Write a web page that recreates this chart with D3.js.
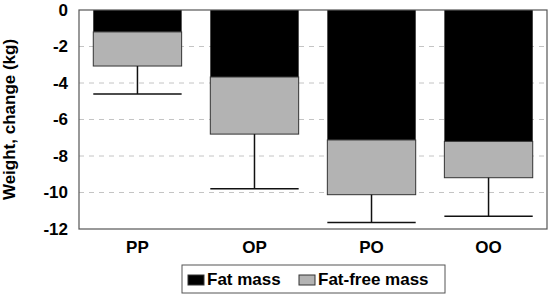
<!DOCTYPE html>
<html>
<head>
<meta charset="utf-8">
<script src="https://cdn.jsdelivr.net/npm/d3@7"></script>
<style>
  body { margin: 0; background: #fff; }
  text { font-family: Arial, "Liberation Sans", sans-serif; font-weight: bold; }
</style>
</head>
<body>
<script>
// groups and values (kg change)
const groups = ['PP', 'OP', 'PO', 'OO'];
const fatMass = [-1.2, -3.67, -7.12, -7.2];
const fatFreeMass = [-1.87, -3.13, -3.0, -1.99];
const errorLow = [-4.6, -9.8, -11.65, -11.3];
const yTicks = [0, -2, -4, -6, -8, -10, -12];
const seriesNames = ['Fat mass', 'Fat-free mass'];

const width = 550, height = 296;
const margin = { top: 10, right: 3, bottom: 67, left: 79 };
const w = width - margin.left - margin.right;
const h = height - margin.top - margin.bottom;

const svg = d3.select('body').append('svg')
  .attr('width', width)
  .attr('height', height);

const g = svg.append('g')
  .attr('transform', `translate(${margin.left},${margin.top})`);

const x = d3.scaleBand().domain(groups).range([0, w]).paddingInner(0.245).paddingOuter(0.122);
const y = d3.scaleLinear().domain([-12, 0]).range([h, 0]);

// dashed gridlines
g.selectAll('.grid')
  .data(yTicks.filter(d => d !== 0 && d !== -12))
  .enter().append('line')
  .attr('x1', 0).attr('x2', w)
  .attr('y1', d => y(d)).attr('y2', d => y(d))
  .attr('stroke', '#c4c4c4')
  .attr('stroke-dasharray', '5,5');

// stacked bars
const rows = groups.map((k, i) => ({ k, fat: fatMass[i], ffm: fatFreeMass[i], err: errorLow[i] }));

g.selectAll('.fat')
  .data(rows).enter().append('rect')
  .attr('x', d => x(d.k))
  .attr('width', x.bandwidth())
  .attr('y', y(0))
  .attr('height', d => y(d.fat) - y(0))
  .attr('fill', '#000');

g.selectAll('.ffm')
  .data(rows).enter().append('rect')
  .attr('x', d => x(d.k))
  .attr('width', x.bandwidth())
  .attr('y', d => y(d.fat))
  .attr('height', d => y(d.fat + d.ffm) - y(d.fat))
  .attr('fill', '#b3b3b3')
  .attr('stroke', '#333')
  .attr('stroke-width', 1);

// error bars
g.selectAll('.err')
  .data(rows).enter().append('line')
  .attr('x1', d => x(d.k) + x.bandwidth() / 2)
  .attr('x2', d => x(d.k) + x.bandwidth() / 2)
  .attr('y1', d => y(d.fat + d.ffm))
  .attr('y2', d => y(d.err))
  .attr('stroke', '#111').attr('stroke-width', 1.5);

g.selectAll('.cap')
  .data(rows).enter().append('line')
  .attr('x1', d => x(d.k))
  .attr('x2', d => x(d.k) + x.bandwidth())
  .attr('y1', d => y(d.err))
  .attr('y2', d => y(d.err))
  .attr('stroke', '#111').attr('stroke-width', 1.5);

// plot frame
g.append('rect')
  .attr('width', w).attr('height', h)
  .attr('fill', 'none')
  .attr('stroke', '#555').attr('stroke-width', 1.2);

// y axis labels (plain hyphen minus like the original)
const yAxis = g.append('g')
  .call(d3.axisLeft(y).tickValues(yTicks).tickSize(0).tickPadding(11).tickFormat(d => String(d)));
yAxis.select('.domain').remove();
yAxis.selectAll('text')
  .attr('font-size', 17)
  .attr('font-family', 'Arial, "Liberation Sans", sans-serif')
  .attr('font-weight', 'bold')
  .attr('fill', '#000');

// x axis labels
const xAxis = g.append('g')
  .attr('transform', `translate(0,${h})`)
  .call(d3.axisBottom(x).tickSize(0).tickPadding(12));
xAxis.select('.domain').remove();
xAxis.selectAll('text')
  .attr('font-size', 17)
  .attr('font-family', 'Arial, "Liberation Sans", sans-serif')
  .attr('font-weight', 'bold')
  .attr('fill', '#000');

// y title
svg.append('text')
  .attr('transform', `translate(15,${margin.top + h / 2}) rotate(-90)`)
  .attr('text-anchor', 'middle')
  .attr('font-size', 17)
  .text('Weight, change (kg)');

// legend
const legend = svg.append('g').attr('transform', 'translate(182,265)');
legend.append('rect')
  .attr('width', 263).attr('height', 28)
  .attr('fill', '#fff').attr('stroke', '#555');

const legendItems = [
  { name: seriesNames[0], color: '#000', x: 6 },
  { name: seriesNames[1], color: '#b3b3b3', x: 117 }
];
legendItems.forEach(d => {
  legend.append('rect')
    .attr('x', d.x).attr('y', 10)
    .attr('width', 16).attr('height', 10)
    .attr('fill', d.color).attr('stroke', '#333');
  legend.append('text')
    .attr('x', d.x + 19).attr('y', 20)
    .attr('font-size', 17)
    .text(d.name);
});
</script>
</body>
</html>
